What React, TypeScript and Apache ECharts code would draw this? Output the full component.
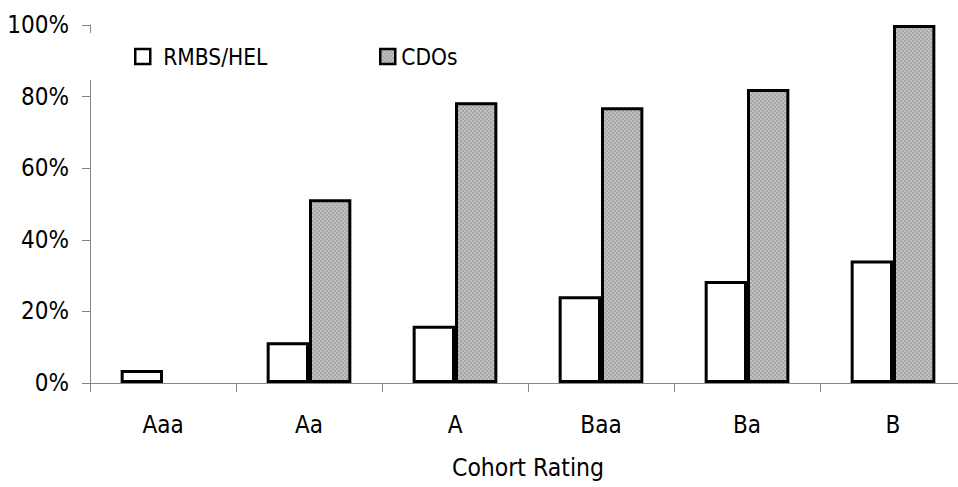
import React, { useEffect, useRef } from "react";
import * as echarts from "echarts";

const categories = ["Aaa", "Aa", "A", "Baa", "Ba", "B"];
const rmbsHel = [3.6, 11.4, 16.0, 24.2, 28.5, 34.2];
const cdos = [null, 51.3, 78.4, 77.0, 82.1, 100.0];
const yTicks = [0, 20, 40, 60, 80, 100];

const FONT = "'Liberation Sans Narrow', 'DejaVu Sans Condensed', 'Arial Narrow', sans-serif";

function makePattern(): HTMLCanvasElement {
  const c = document.createElement("canvas");
  c.width = 4;
  c.height = 4;
  const ctx = c.getContext("2d")!;
  ctx.fillStyle = "#d8d8d8";
  ctx.fillRect(0, 0, 4, 4);
  ctx.fillStyle = "#a8a8a8";
  ctx.fillRect(0, 0, 2, 2);
  ctx.fillRect(2, 2, 2, 2);
  ctx.fillStyle = "#c0c0c0";
  ctx.fillRect(2, 0, 2, 2);
  ctx.fillRect(0, 2, 2, 2);
  return c;
}

export default function App() {
  const ref = useRef<HTMLDivElement>(null);
  useEffect(() => {
    if (!ref.current) return;
    const chart = echarts.init(ref.current, undefined, { renderer: "svg" });
    const pattern = { image: makePattern(), repeat: "repeat" };
    const axisColor = "#868686";
    const legendText = { fontFamily: FONT, fontSize: 22.5, color: "#000" };
    chart.setOption({
      animation: false,
      backgroundColor: "#ffffff",
      textStyle: { fontFamily: FONT },
      grid: {
        left: 90,
        top: 25,
        width: 876,
        height: 358,
        containLabel: false,
        outerBoundsMode: "none",
      },
      legend: [
        {
          left: 86,
          top: 33,
          padding: [12, 20, 12, 48],
          backgroundColor: "#ffffff",
          icon: "rect",
          itemWidth: 15,
          itemHeight: 15,
          itemStyle: { borderColor: "#000", borderWidth: 2.5 },
          textStyle: { ...legendText, padding: [0, 0, 0, 8] },
          data: ["RMBS/HEL"],
        },
        {
          left: 379,
          top: 33,
          padding: [12, 10, 12, 0],
          icon: "rect",
          itemWidth: 15,
          itemHeight: 15,
          itemStyle: { borderColor: "#000", borderWidth: 2.5 },
          textStyle: { ...legendText, padding: [0, 0, 0, 1] },
          data: ["CDOs"],
        },
      ],
      xAxis: {
        type: "category",
        data: categories,
        name: "Cohort Rating",
        nameLocation: "middle",
        nameGap: 72,
        nameTextStyle: { fontFamily: FONT, fontSize: 24.5, color: "#000" },
        axisLine: { lineStyle: { color: axisColor, width: 1 } },
        axisTick: { show: true, length: 9, lineStyle: { color: axisColor } },
        axisLabel: { fontFamily: FONT, fontSize: 24, color: "#000", margin: 30 },
        splitLine: { show: false },
      },
      yAxis: {
        type: "value",
        min: 0,
        max: 100,
        interval: 20,
        axisLine: { show: true, lineStyle: { color: axisColor, width: 1 } },
        axisTick: { show: true, length: 8, lineStyle: { color: axisColor } },
        axisLabel: {
          fontFamily: FONT,
          fontSize: 24,
          color: "#000",
          margin: 21,
          formatter: (v: number) => (yTicks.includes(v) ? v + "%" : ""),
        },
        splitLine: { show: false },
      },
      series: [
        {
          name: "RMBS/HEL",
          type: "bar",
          data: rmbsHel,
          barGap: "0%",
          barCategoryGap: "42%",
          itemStyle: { color: "#ffffff", borderColor: "#000000", borderWidth: 3 },
        },
        {
          name: "CDOs",
          type: "bar",
          data: cdos,
          itemStyle: { color: pattern, borderColor: "#000000", borderWidth: 3 },
        },
      ],
    });
    return () => chart.dispose();
  }, []);
  return (
    <div
      ref={ref}
      style={{ position: "fixed", left: 0, top: 0, width: 958, height: 487, background: "#fff" }}
    />
  );
}
